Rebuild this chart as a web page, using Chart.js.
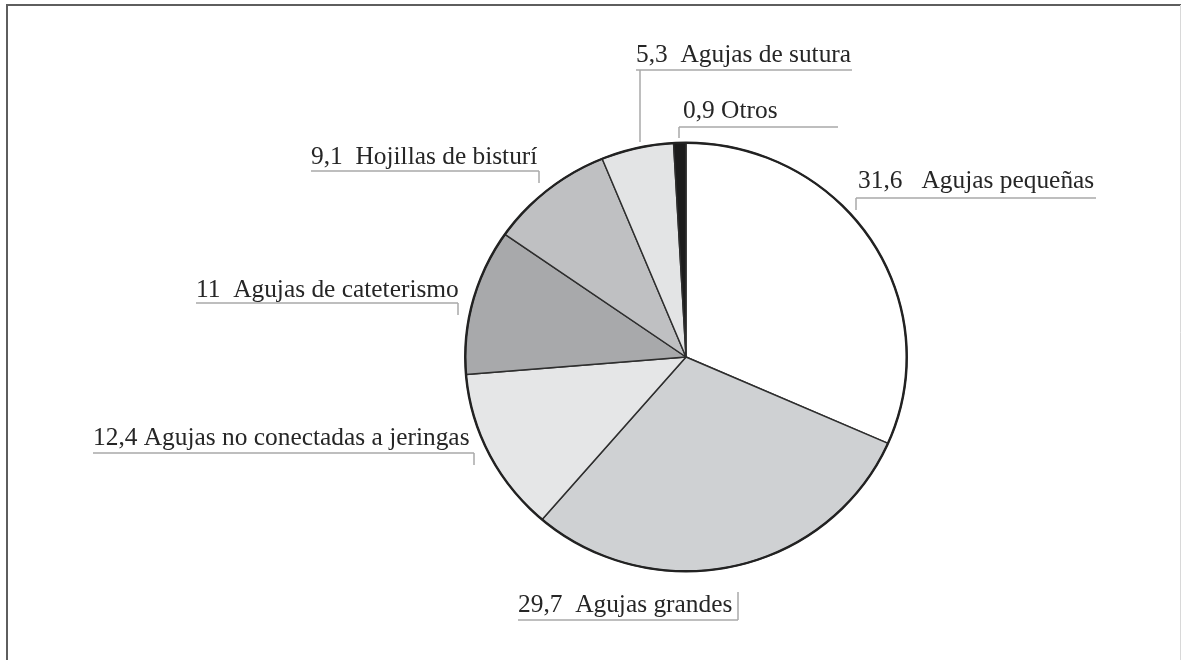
<!DOCTYPE html>
<html>
  <head>
    <meta charset="utf-8" />
    <title>Objetos cortopunzantes</title>
    <script src="https://cdn.jsdelivr.net/npm/chart.js"></script>
    <style>
      html, body { margin: 0; padding: 0; background: #fff; }
      #wrap { position: relative; width: 1181px; height: 660px; }
    </style>
  </head>
  <body>
    <div id="wrap">
      <canvas id="pieChart" width="1181" height="660"></canvas>
    </div>

    <script>
  // data (percent)
  const categories = [
    "Agujas pequeñas",
    "Agujas grandes",
    "Agujas no conectadas a jeringas",
    "Agujas de cateterismo",
    "Hojillas de bisturí",
    "Agujas de sutura",
    "Otros"
  ];
  const values = [31.6, 29.7, 12.4, 11, 9.1, 5.3, 0.9];
  const sliceColors = ["#ffffff", "#cfd1d3", "#e5e6e7", "#a8a9ab", "#bfc0c2", "#e3e4e5", "#1c1c1c"];

  // label placement: text start + baseline, underline span, tick end (y)
  const labelLayout = [
    { gap: "   ", tx: 858, ty: 188, x1: 856, x2: 1096, ly: 198, tickX: 856, tickY: 210 },
    { gap: "  ", tx: 518, ty: 612, x1: 518, x2: 738, ly: 620, tickX: 738, tickY: 592 },
    { gap: " ",  tx: 93,  ty: 445, x1: 93,  x2: 474, ly: 453, tickX: 474, tickY: 465 },
    { gap: "  ", tx: 196, ty: 297, x1: 196, x2: 458, ly: 303, tickX: 458, tickY: 315 },
    { gap: "  ", tx: 311, ty: 164, x1: 311, x2: 539, ly: 171, tickX: 539, tickY: 183 },
    { gap: "  ", tx: 636, ty: 62,  x1: 636, x2: 852, ly: 70,  tickX: 640, tickY: 142 },
    { gap: " ",  tx: 683, ty: 118, x1: 679, x2: 838, ly: 127, tickX: 679, tickY: 138 }
  ];

  const fmt = v => String(v).replace(".", ",");
  const labelFont = "normal 400 25.4px 'Liberation Serif', 'Times New Roman', Times, serif";

  // page frame (top / left / right edges)
  const framePlugin = {
    id: "frame",
    beforeDraw(chart) {
      const ctx = chart.ctx;
      ctx.save();
      ctx.fillStyle = "#ffffff";
      ctx.fillRect(0, 0, chart.width, chart.height);
      ctx.strokeStyle = "#5e5e5e";
      ctx.lineWidth = 2;
      ctx.beginPath();
      ctx.moveTo(7, 660);
      ctx.lineTo(7, 5);
      ctx.lineTo(1181, 5);
      ctx.stroke();
      ctx.strokeStyle = "#d8d8d8";
      ctx.lineWidth = 1;
      ctx.beginPath();
      ctx.moveTo(1180.5, 5);
      ctx.lineTo(1180.5, 660);
      ctx.stroke();
      ctx.restore();
    }
  };

  // the printed pie is slightly wider than tall
  const stretchPlugin = {
    id: "stretch",
    beforeDatasetsDraw(chart) {
      const arc = chart.getDatasetMeta(0).data[0];
      const ctx = chart.ctx;
      ctx.save();
      ctx.translate(arc.x, arc.y);
      ctx.scale(1.03, 1);
      ctx.translate(-arc.x, -arc.y);
    },
    afterDatasetsDraw(chart) {
      const arc = chart.getDatasetMeta(0).data[0];
      const ctx = chart.ctx;
      // heavier outer rim
      ctx.beginPath();
      ctx.arc(arc.x, arc.y, arc.outerRadius, 0, Math.PI * 2);
      ctx.strokeStyle = "#222";
      ctx.lineWidth = 2.4;
      ctx.stroke();
      ctx.restore();
    }
  };

  const labelPlugin = {
    id: "leaderLabels",
    afterDraw(chart) {
      const ctx = chart.ctx;
      ctx.save();
      ctx.font = labelFont;
      ctx.textBaseline = "alphabetic";
      ctx.textAlign = "left";
      categories.forEach((name, i) => {
        const L = labelLayout[i];
        ctx.strokeStyle = "#a9a9a9";
        ctx.lineWidth = 1.5;
        ctx.beginPath();
        ctx.moveTo(L.x1, L.ly);
        ctx.lineTo(L.x2, L.ly);
        ctx.moveTo(L.tickX, L.ly);
        ctx.lineTo(L.tickX, L.tickY);
        ctx.stroke();
        ctx.fillStyle = "#262626";
        ctx.fillText(fmt(values[i]) + L.gap + name, L.tx, L.ty);
      });
      ctx.restore();
    }
  };

  new Chart(document.getElementById("pieChart"), {
    type: "pie",
    data: {
      labels: categories,
      datasets: [{
        data: values,
        backgroundColor: sliceColors,
        borderColor: "#2e2e2e",
        borderWidth: 1.4
      }]
    },
    options: {
      responsive: false,
      animation: false,
      layout: { padding: { top: 142, bottom: 88, left: 471, right: 280 } },
      plugins: {
        legend: { display: false },
        tooltip: { enabled: false }
      }
    },
    plugins: [framePlugin, stretchPlugin, labelPlugin]
  });
</script>
  </body>
</html>
